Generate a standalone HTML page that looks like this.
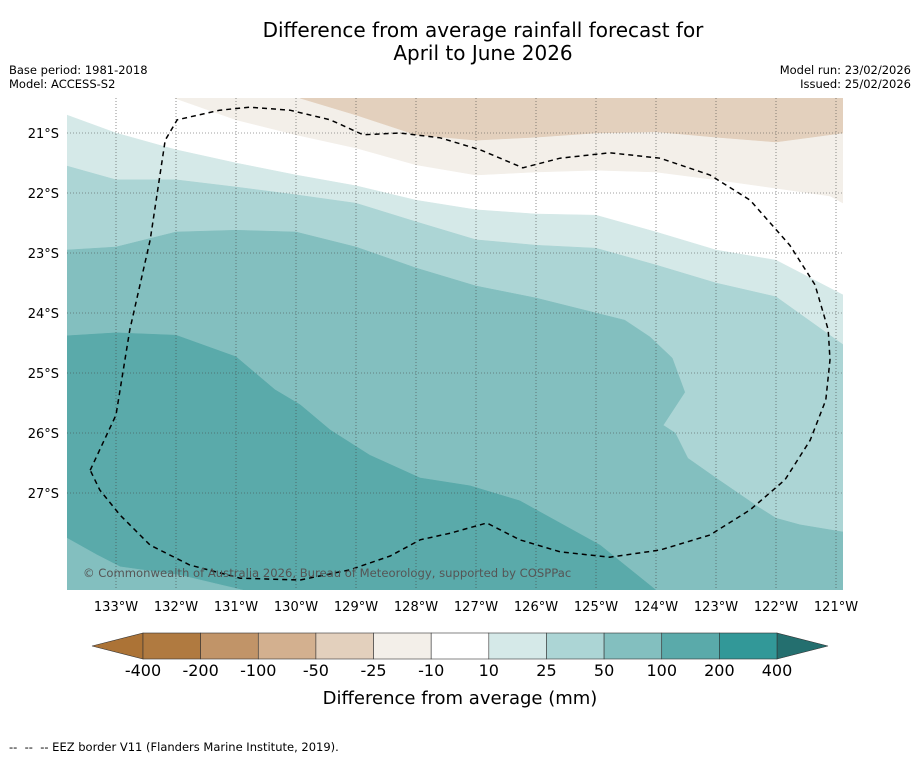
<!DOCTYPE html>
<html><head><meta charset="utf-8">
<style>
body{margin:0;background:#fff;width:919px;height:758px;overflow:hidden;font-family:"Liberation Sans","DejaVu Sans",sans-serif;}
.t{position:absolute;color:#000;white-space:nowrap}
</style></head>
<body>
<div class="t" style="left:0;width:966px;top:19px;text-align:center;font-size:20px;line-height:23px;font-family:'DejaVu Sans',sans-serif">Difference from average rainfall forecast for<br>April to June 2026</div>
<div class="t" style="left:9px;top:63px;font-size:11.5px;line-height:14px;font-family:'DejaVu Sans',sans-serif">Base period: 1981-2018<br>Model: ACCESS-S2</div>
<div class="t" style="right:8px;top:63px;font-size:11.5px;line-height:14px;text-align:right;font-family:'DejaVu Sans',sans-serif">Model run: 23/02/2026<br>Issued: 25/02/2026</div>
<div class="t" style="left:9px;top:740px;font-size:11.5px;font-family:'DejaVu Sans',sans-serif">-- &nbsp;-- &nbsp;-- EEZ border V11 (Flanders Marine Institute, 2019).</div>
<svg id="s" width="919" height="758" style="position:absolute;left:0;top:0"></svg>
<script>
const lonTicks=[133,132,131,130,129,128,127,126,125,124,123,122,121];
const latTicks=[21,22,23,24,25,26,27];
const lonBase=[133.82,133,132,131,130,129,128,127,126,125,124,123,122,120.88];
const band10Lat=[20.70,21.0,21.28,21.5,21.7,21.88,22.12,22.28,22.35,22.37,22.65,22.95,23.12,23.7];
const band25Lat=[21.55,21.78,21.78,21.9,22.03,22.17,22.48,22.78,22.87,22.92,23.2,23.5,23.73,24.53];
const band50=[[133.82,22.95],[133,22.9],[132,22.65],[131,22.62],[130,22.65],[129,22.9],[128,23.25],[127,23.55],[126,23.75],[125,24.0],[124.52,24.12],[124.1,24.4],[123.73,24.75],[123.52,25.32],[123.88,25.87],[123.68,26.0],[123.47,26.42],[123,26.75],[122.27,27.25],[122,27.42],[121.6,27.53],[120.88,27.65]];
const band100=[[133.82,24.38],[133,24.33],[132,24.37],[131,24.73],[130.35,25.28],[129.93,25.53],[129.43,25.95],[128.77,26.37],[127.93,26.75],[127.1,26.88],[126.27,27.13],[125.6,27.5],[124.93,27.87],[124,28.62]];
const band50South=[[133.82,27.75],[133.32,28.03],[132.93,28.23],[131.93,28.37],[130.88,28.62]];
const bandNeg10=[[132.02,20.42],[131,20.78],[130,21.03],[129,21.25],[128,21.53],[127,21.7],[126,21.65],[125,21.62],[124,21.65],[123,21.78],[122,21.92],[121.1,22.05],[120.88,22.17]];
const bandNeg25=[[129.93,20.42],[129,20.7],[128,21.03],[127,21.12],[126,21.07],[125,21],[124,20.98],[123,21.07],[122,21.15],[120.88,21]];
const eez=[[133.43,26.62],[133,25.7],[132.77,24.28],[132.43,22.78],[132.18,21.12],[131.98,20.78],[131.27,20.62],[130.77,20.57],[130.1,20.62],[129.43,20.78],[128.88,21.03],[128.27,21],[127.6,21.08],[126.93,21.28],[126.22,21.58],[125.6,21.42],[124.77,21.33],[123.93,21.42],[123.1,21.7],[122.43,22.12],[121.77,22.87],[121.35,23.53],[121.13,24.28],[121.1,24.78],[121.17,25.45],[121.43,26.12],[121.85,26.78],[122.43,27.28],[123.1,27.7],[123.93,27.95],[124.77,28.07],[125.6,27.98],[126.27,27.78],[126.82,27.5],[127.43,27.67],[127.93,27.78],[128.43,28.05],[129.1,28.28],[129.93,28.45],[130.93,28.42],[131.77,28.2],[132.43,27.87],[132.93,27.37],[133.27,26.95],[133.43,26.62]];
const cbLabels=["-400","-200","-100","-50","-25","-10","10","25","50","100","200","400"];
const cbColors=["#b07a40","#c19468","#d3b08f","#e3d0bd","#f3efe9","#ffffff","#d5e9e8","#acd5d5","#83bfbf","#5aaaaa","#329898"];

const X0=67,X1=843,Y0=98,Y1=590;
const xs=l=>116+(133-l)*60;
const ys=l=>133+(l-21)*60;
const NS="http://www.w3.org/2000/svg";
const svg=document.getElementById('s');
function mk(t,a){const e=document.createElementNS(NS,t);for(const k in a)e.setAttribute(k,a[k]);svg.appendChild(e);return e;}
const pts=arr=>arr.map(p=>xs(p[0]).toFixed(1)+','+ys(p[1]).toFixed(1)).join(' ');
const defs=mk('defs',{});
const cp=document.createElementNS(NS,'clipPath');cp.setAttribute('id','c');defs.appendChild(cp);
const cr=document.createElementNS(NS,'rect');cr.setAttribute('x',X0);cr.setAttribute('y',Y0);cr.setAttribute('width',X1-X0);cr.setAttribute('height',Y1-Y0);cp.appendChild(cr);
const g=mk('g',{'clip-path':'url(#c)'});
function poly(p,fill,name){const e=document.createElementNS(NS,'polygon');e.setAttribute('points',p);e.setAttribute('fill',fill);e.setAttribute('stroke',fill);e.setAttribute('stroke-width','0.5');


g.appendChild(e);}
const bot=' '+X1+','+(Y1+5)+' '+X0+','+(Y1+5);
const topEdge=' '+X1+','+(Y0-5)+' '+xs(bandNeg10[0][0])+','+(Y0-5);
poly(pts(lonBase.map((l,i)=>[l,band10Lat[i]]))+bot,'#d5e9e8','band-10-25');
poly(pts(lonBase.map((l,i)=>[l,band25Lat[i]]))+bot,'#acd5d5','band-25-50');
poly(pts(band50)+bot,'#83bfbf','band-50-100');
poly(pts(band100)+' '+X0+','+(Y1+5),'#5aaaaa','band-100-200');
poly(pts(band50South)+' '+X0+','+(Y1+5),'#83bfbf','band-50-100-south');
poly(pts(bandNeg10)+topEdge,'#f3efe9','band-neg10-neg25');
poly(pts(bandNeg25)+' '+X1+','+(Y0-5)+' '+xs(bandNeg25[0][0])+','+(Y0-5),'#e3d0bd','band-neg25-neg50');
lonTicks.forEach(l=>{const x=xs(l);if(x<X1){const e=mk('line',{x1:x,x2:x,y1:Y0,y2:Y1,stroke:'#444','stroke-width':0.6,'stroke-dasharray':'1,2'});

}
const t=mk('text',{x:x,y:611,'font-size':13,'text-anchor':'middle','font-family':'DejaVu Sans,sans-serif'});t.textContent=l+'°W';

});
latTicks.forEach(l=>{const y=ys(l);const e=mk('line',{x1:X0,x2:X1,y1:y,y2:y,stroke:'#444','stroke-width':0.6,'stroke-dasharray':'1,2'});


const t=mk('text',{x:59,y:y+5,'font-size':13,'text-anchor':'end','font-family':'DejaVu Sans,sans-serif'});t.textContent=l+'°S';

});
const eb=mk('polyline',{points:pts(eez),fill:'none',stroke:'#000','stroke-width':1.5,'stroke-dasharray':'5,4'});


const cpy=mk('text',{x:83,y:577,'font-size':11.6,fill:'#555','font-family':'DejaVu Sans,sans-serif'});cpy.textContent='© Commonwealth of Australia 2026, Bureau of Meteorology, supported by COSPPac';


const cbX0=143,cbX1=777,cbY=633,cbH=26,w=(cbX1-cbX0)/cbColors.length;
const lt=mk('polygon',{points:`92,${cbY+cbH/2} ${cbX0},${cbY} ${cbX0},${cbY+cbH}`,fill:'#ac7336',stroke:'#333','stroke-width':0.6});


const rt=mk('polygon',{points:`828,${cbY+cbH/2} ${cbX1},${cbY} ${cbX1},${cbY+cbH}`,fill:'#246f6f',stroke:'#333','stroke-width':0.6});


cbColors.forEach((c,i)=>{const r=mk('rect',{x:cbX0+i*w,y:cbY,width:w,height:cbH,fill:c,stroke:'#333','stroke-width':0.6});

});
cbLabels.forEach((s,i)=>{const t=mk('text',{x:cbX0+i*w,y:676,'font-size':16,'text-anchor':'middle','font-family':'DejaVu Sans,sans-serif'});t.textContent=s;

});
const ct=mk('text',{x:460,y:704,'font-size':18,'text-anchor':'middle','font-family':'DejaVu Sans,sans-serif'});ct.textContent='Difference from average (mm)';


</script>
</body></html>
